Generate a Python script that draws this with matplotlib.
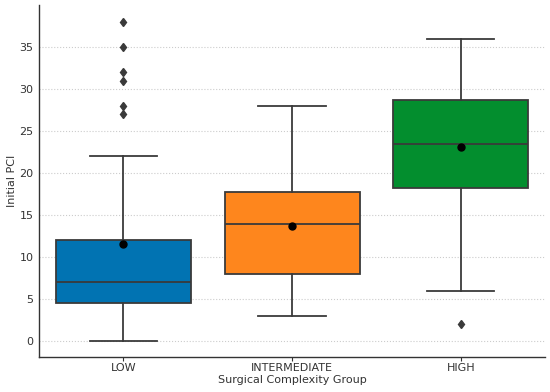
import matplotlib
matplotlib.use("Agg")
import matplotlib.pyplot as plt

groups = ["LOW", "INTERMEDIATE", "HIGH"]
whislo = [0, 3, 6]
q1 = [4.5, 8.0, 18.2]
med = [7.0, 14.0, 23.5]
q3 = [12.0, 17.7, 28.7]
whishi = [22, 28, 36]
means = [11.6, 13.7, 23.1]
fliers = [[27, 28, 31, 32, 35, 38], [], [2]]
colors = ["#0173b2", "#fe861d", "#038e2e"]

stats = []
for i, g in enumerate(groups):
    stats.append(dict(label=g, whislo=whislo[i], q1=q1[i], med=med[i], q3=q3[i],
                      whishi=whishi[i], mean=means[i], fliers=fliers[i]))

fig = plt.figure(figsize=(5.5, 3.92), dpi=100)
ax = fig.add_axes([0.071, 0.089, 0.92, 0.898])
ec = "#3a3a3a"
bp = ax.bxp(stats, positions=range(3), widths=0.8, patch_artist=True, showmeans=True,
            boxprops=dict(edgecolor=ec, linewidth=1.3),
            medianprops=dict(color=ec, linewidth=1.3),
            whiskerprops=dict(color=ec, linewidth=1.3),
            capprops=dict(color=ec, linewidth=1.3),
            capwidths=0.4,
            flierprops=dict(marker="d", markerfacecolor=ec, markeredgecolor=ec, markersize=4.5),
            meanprops=dict(marker="o", markerfacecolor="black", markeredgecolor="black", markersize=5))
for patch, c in zip(bp["boxes"], colors):
    patch.set_facecolor(c)

ax.set_xlim(-0.5, 2.5)
ax.set_ylim(-1.9, 40)
ax.set_yticks([0, 5, 10, 15, 20, 25, 30, 35])
ax.set_xticks(range(3))
ax.set_xticklabels(groups)
ax.yaxis.grid(True, linestyle=":", color="#cccccc", linewidth=0.8)
ax.set_axisbelow(True)
for s in ["top", "right"]:
    ax.spines[s].set_visible(False)
for s in ["left", "bottom"]:
    ax.spines[s].set_color("#333333")
    ax.spines[s].set_linewidth(1.0)
ax.tick_params(axis="y", length=0, labelsize=8, colors="#333333", pad=4)
ax.tick_params(axis="x", length=3, labelsize=8, colors="#333333", pad=1.5)
ax.set_xlabel("Surgical Complexity Group", fontsize=8, color="#333333", labelpad=1)
ax.set_ylabel("Initial PCI", fontsize=8, color="#333333", labelpad=2)
fig.savefig("out.png", dpi=100)
